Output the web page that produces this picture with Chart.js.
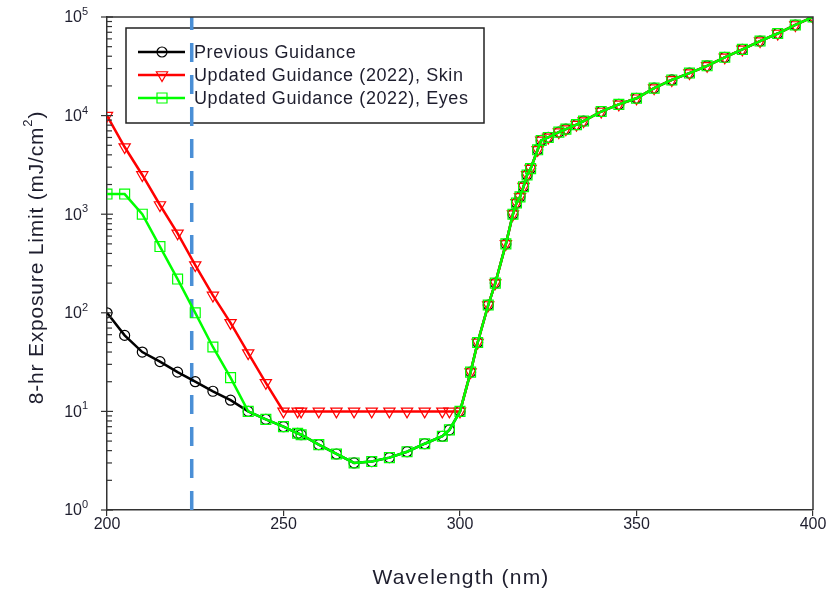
<!DOCTYPE html>
<html>
<head>
<meta charset="utf-8">
<script src="https://cdn.jsdelivr.net/npm/chart.js@4"></script>
<style>
  html, body { margin: 0; padding: 0; background: #fff; }
  #wrap { width: 836px; height: 594px; position: relative; }
</style>
</head>
<body>
<div id="wrap"><canvas id="limitChart"></canvas></div>
<script>
// wavelength grid (nm) shared by all three series
const wavelengths = [200, 205, 210, 215, 220, 225, 230, 235, 240, 245, 250, 254, 255, 260, 265, 270, 275, 280, 285, 290, 295, 297, 300,
    303, 305, 308, 310, 313, 315, 316, 317, 318, 319, 320, 322, 323, 325, 328, 330, 333, 335,
    340, 345, 350, 355, 360, 365, 370, 375, 380, 385, 390, 395, 400];

// 8-hr exposure limits, mJ/cm2
const previousLimit = [100, 59, 40, 32, 25, 20, 16, 13, 10, 8.3, 7.0, 6.0, 5.8, 4.6, 3.7, 3.0, 3.1, 3.4, 3.9, 4.7, 5.6, 6.5, 10,
    25, 50, 120, 200, 500, 1000, 1300, 1500, 1900, 2500, 2900, 4500, 5600, 6000, 6800, 7300, 8100, 8800,
    11000, 13000, 15000, 19000, 23000, 27000, 32000, 39000, 47000, 57000, 68000, 83000, 100000];
const skinLimit = [10000, 4800, 2500, 1240, 640, 305, 150, 79, 39, 19.5, 10, 10, 10, 10, 10, 10, 10, 10, 10, 10, 10, 10, 10,
    25, 50, 120, 200, 500, 1000, 1300, 1500, 1900, 2500, 2900, 4500, 5600, 6000, 6800, 7300, 8100, 8800,
    11000, 13000, 15000, 19000, 23000, 27000, 32000, 39000, 47000, 57000, 68000, 83000, 100000];
const eyesLimit = [1600, 1600, 1000, 470, 220, 100, 45, 22, 10, 8.3, 7.0, 6.0, 5.8, 4.6, 3.7, 3.0, 3.1, 3.4, 3.9, 4.7, 5.6, 6.5, 10,
    25, 50, 120, 200, 500, 1000, 1300, 1500, 1900, 2500, 2900, 4500, 5600, 6000, 6800, 7300, 8100, 8800,
    11000, 13000, 15000, 19000, 23000, 27000, 32000, 39000, 47000, 57000, 68000, 83000, 100000];

const markerWavelength = 224;
const yDecades = [1, 10, 100, 1000, 10000, 100000];
const yExponents = ['0', '1', '2', '3', '4', '5'];
const seriesNames = ['Previous Guidance', 'Updated Guidance (2022), Skin', 'Updated Guidance (2022), Eyes'];

const FONT = '"Liberation Sans", Arial, sans-serif';
const AXIS_COLOR = '#333';
const TEXT_COLOR = '#1e1e2e';

function toPoints(values) {
    return wavelengths.map((w, i) => ({ x: w, y: values[i] }));
}

function drawMarker(ctx, style, x, y, color) {
    ctx.save();
    ctx.strokeStyle = color;
    ctx.lineWidth = 1.2;
    ctx.beginPath();
    if (style === 'circle') {
        ctx.arc(x, y, 5, 0, Math.PI * 2);
    } else if (style === 'triangle') {
        const r = 6.5;
        ctx.moveTo(x, y + r);
        ctx.lineTo(x - r * 0.866, y - r * 0.5);
        ctx.lineTo(x + r * 0.866, y - r * 0.5);
        ctx.closePath();
    } else {
        ctx.rect(x - 5, y - 5, 10, 10);
    }
    ctx.stroke();
    ctx.restore();
}

// legend box inside the plot, drawn under the datasets
const legendBox = {
    id: 'legendBox',
    beforeDatasetsDraw(chart) {
        const ctx = chart.ctx;
        const colors = ['#000000', '#ff0000', '#00ff00'];
        const styles = ['circle', 'triangle', 'rect'];
        ctx.save();
        ctx.fillStyle = '#fff';
        ctx.fillRect(126, 28, 358, 95);
        ctx.strokeStyle = '#222';
        ctx.lineWidth = 1.5;
        ctx.strokeRect(126, 28, 358, 95);
        ctx.font = '18px ' + FONT;
        ctx.letterSpacing = '0.6px';
        ctx.textBaseline = 'middle';
        seriesNames.forEach((name, i) => {
            const y = 52 + i * 23;
            ctx.strokeStyle = colors[i];
            ctx.lineWidth = 2.5;
            ctx.beginPath();
            ctx.moveTo(138, y);
            ctx.lineTo(185, y);
            ctx.stroke();
            drawMarker(ctx, styles[i], 162, y, colors[i]);
            ctx.fillStyle = TEXT_COLOR;
            ctx.fillText(name, 194, y + 1);
        });
        ctx.restore();
    }
};

// frame, log ticks with superscript labels, axis titles
const axisDecor = {
    id: 'axisDecor',
    afterDraw(chart) {
        const ctx = chart.ctx;
        const area = chart.chartArea;
        const yScale = chart.scales.y;
        ctx.save();
        ctx.strokeStyle = AXIS_COLOR;
        ctx.lineWidth = 1.5;
        ctx.beginPath();
        ctx.moveTo(area.left, area.top);
        ctx.lineTo(area.right, area.top);
        ctx.lineTo(area.right, area.bottom);
        ctx.stroke();

        ctx.lineWidth = 1.2;
        yDecades.forEach((v, i) => {
            const py = yScale.getPixelForValue(v);
            ctx.beginPath();
            ctx.moveTo(area.left - 6, py);
            ctx.lineTo(area.left + 6, py);
            ctx.stroke();
            if (i < yDecades.length - 1) {
                for (let m = 2; m <= 9; m++) {
                    const my = yScale.getPixelForValue(v * m);
                    ctx.beginPath();
                    ctx.moveTo(area.left, my);
                    ctx.lineTo(area.left + 5, my);
                    ctx.stroke();
                }
            }
            // label 10^n
            ctx.fillStyle = TEXT_COLOR;
            ctx.textBaseline = 'middle';
            ctx.textAlign = 'right';
            ctx.font = '16px ' + FONT;
            ctx.fillText('10', 82, py + 1);
            ctx.font = '11px ' + FONT;
            ctx.textAlign = 'left';
            ctx.fillText(yExponents[i], 82, py - 5);
        });

        // x title
        ctx.fillStyle = TEXT_COLOR;
        ctx.textAlign = 'center';
        ctx.textBaseline = 'middle';
        ctx.font = '21px ' + FONT;
        ctx.letterSpacing = '1.2px';
        ctx.fillText('Wavelength (nm)', (area.left + area.right) / 2 + 1, 578);

        // y title, rotated
        ctx.translate(37, (area.top + area.bottom) / 2 - 6);
        ctx.rotate(-Math.PI / 2);
        ctx.textAlign = 'left';
        ctx.letterSpacing = '0.8px';
        const main = '8-hr Exposure Limit (mJ/cm';
        ctx.font = '21px ' + FONT;
        const w1 = ctx.measureText(main).width;
        const w3 = ctx.measureText(')').width;
        ctx.font = '13px ' + FONT;
        const w2 = ctx.measureText('2').width;
        const start = -(w1 + w2 + w3) / 2;
        ctx.font = '21px ' + FONT;
        ctx.fillText(main, start, 0);
        ctx.fillText(')', start + w1 + w2, 0);
        ctx.font = '13px ' + FONT;
        ctx.fillText('2', start + w1, -9);
        ctx.restore();
    }
};

new Chart(document.getElementById('limitChart').getContext('2d'), {
    type: 'line',
    data: {
        datasets: [{
            label: 'Far-UVC',
            data: [{ x: markerWavelength, y: 1 }, { x: markerWavelength, y: 100000 }],
            borderColor: '#4a8fd6',
            borderWidth: 3.5,
            borderDash: [19, 13],
            pointRadius: 0,
            order: 4
        }, {
            label: seriesNames[0],
            data: toPoints(previousLimit),
            borderColor: '#000000',
            borderWidth: 2.5,
            pointStyle: 'circle',
            pointRadius: 5,
            pointBorderWidth: 1.2,
            pointBackgroundColor: 'rgba(0,0,0,0)',
            pointBorderColor: '#000000',
            order: 3
        }, {
            label: seriesNames[1],
            data: toPoints(skinLimit),
            borderColor: '#ff0000',
            borderWidth: 2.5,
            pointStyle: 'triangle',
            pointRotation: 180,
            pointRadius: 6.5,
            pointBorderWidth: 1.2,
            pointBackgroundColor: 'rgba(0,0,0,0)',
            pointBorderColor: '#ff0000',
            order: 2
        }, {
            label: seriesNames[2],
            data: toPoints(eyesLimit),
            borderColor: '#00ff00',
            borderWidth: 2.5,
            pointStyle: 'rect',
            pointRadius: 7,
            pointBorderWidth: 1.2,
            pointBackgroundColor: 'rgba(0,0,0,0)',
            pointBorderColor: '#00ff00',
            order: 1
        }]
    },
    options: {
        responsive: true,
        maintainAspectRatio: false,
        animation: false,
        layout: {
            padding: { top: 17, right: 23, left: 0, bottom: 0 }
        },
        plugins: {
            legend: { display: false },
            tooltip: { enabled: false }
        },
        scales: {
            x: {
                type: 'linear',
                min: 200,
                max: 400,
                ticks: {
                    stepSize: 50,
                    padding: -1,
                    color: TEXT_COLOR,
                    font: { family: FONT, size: 16 }
                },
                grid: {
                    drawOnChartArea: false,
                    tickLength: 6,
                    color: AXIS_COLOR,
                    lineWidth: 1.2
                },
                border: { color: AXIS_COLOR, width: 1.5 },
                afterFit(scale) { scale.height = 84; }
            },
            y: {
                type: 'logarithmic',
                min: 1,
                max: 100000,
                ticks: { display: false },
                grid: { display: false },
                border: { color: AXIS_COLOR, width: 1.5 },
                afterFit(scale) { scale.width = 107; }
            }
        }
    },
    plugins: [legendBox, axisDecor]
});
</script>
</body>
</html>
